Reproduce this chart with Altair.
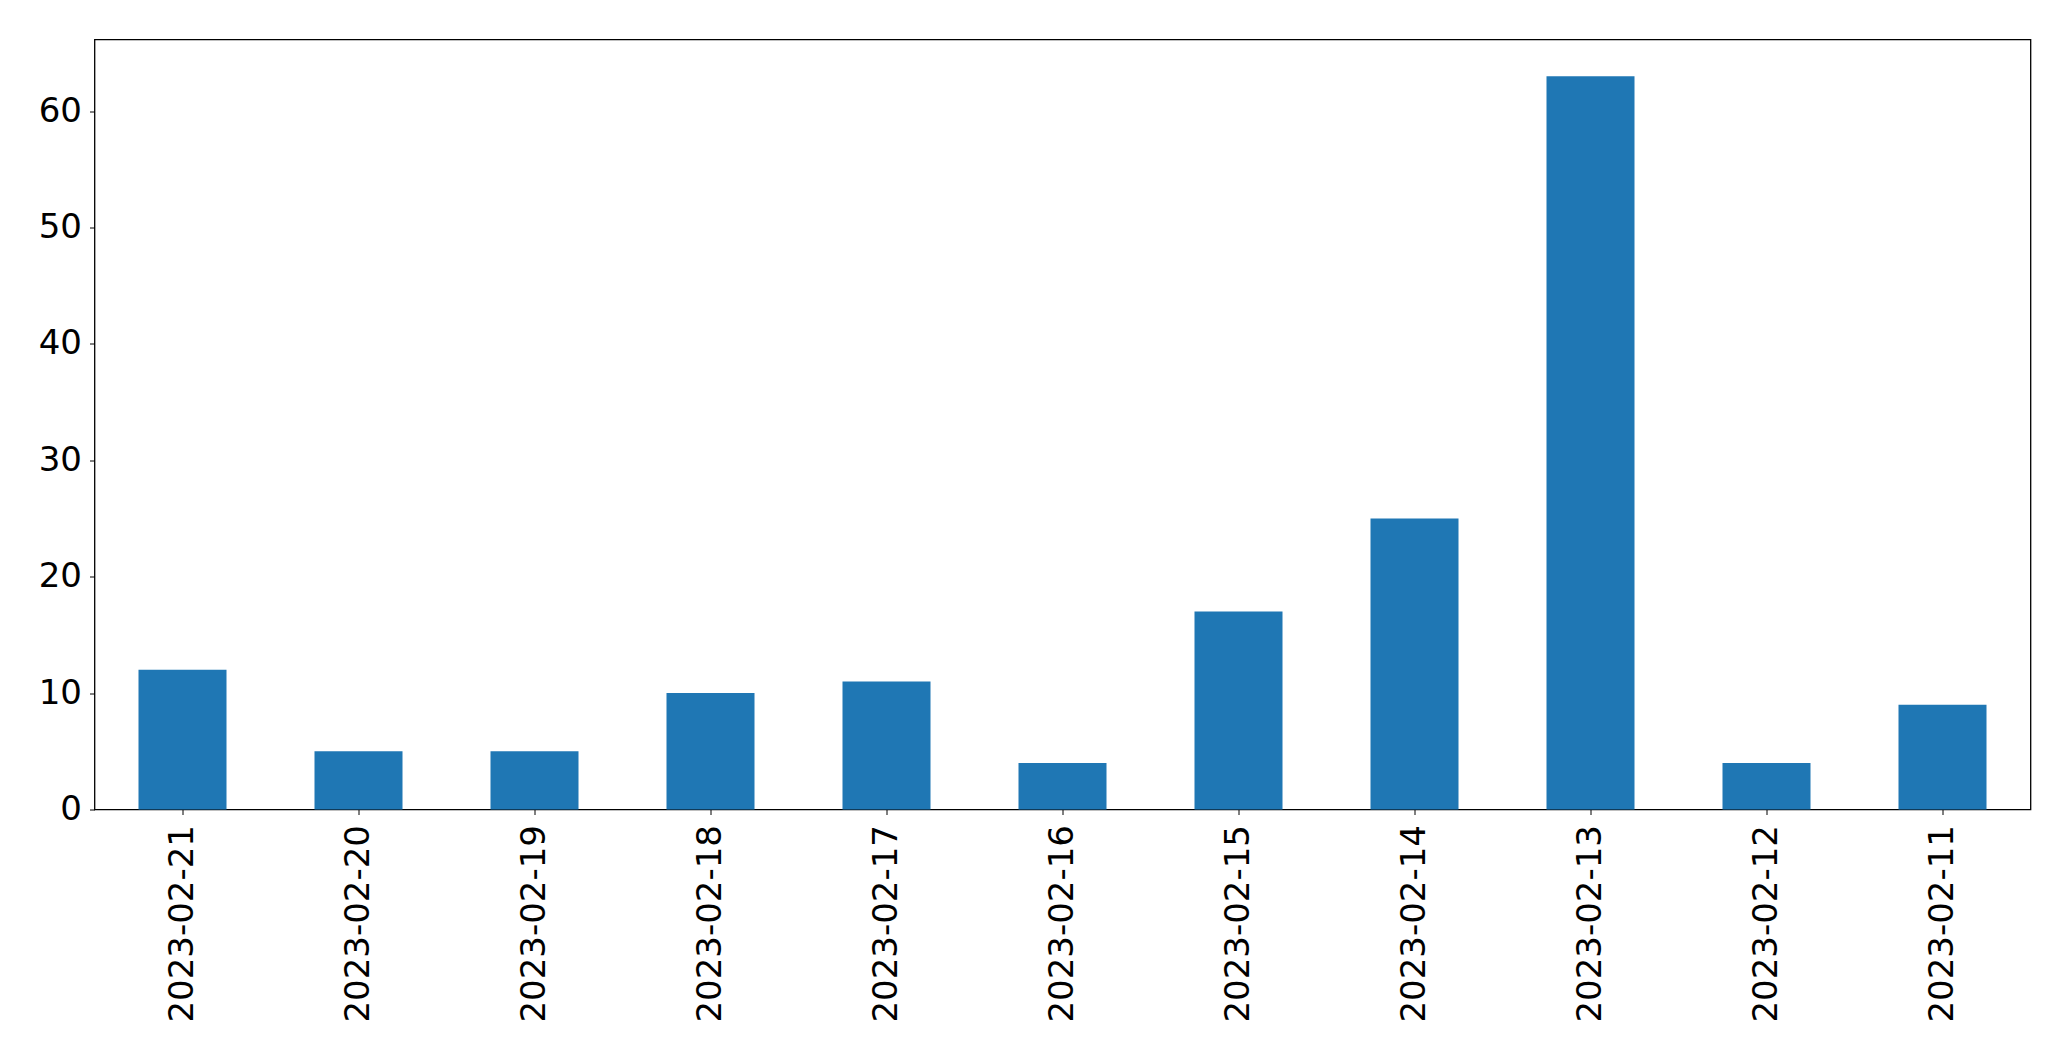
import altair as alt
import pandas as pd

dates = ["2023-02-21", "2023-02-20", "2023-02-19", "2023-02-18", "2023-02-17",
         "2023-02-16", "2023-02-15", "2023-02-14", "2023-02-13", "2023-02-12", "2023-02-11"]
counts = [12, 5, 5, 10, 11, 4, 17, 25, 63, 4, 9]
y_ticks = [0, 10, 20, 30, 40, 50, 60]

df = pd.DataFrame({"date": dates, "count": counts})

chart = alt.Chart(df).mark_bar(color="#1f77b4").encode(
    x=alt.X("date:N", sort=dates, title=None,
            scale=alt.Scale(paddingInner=0.5, paddingOuter=0.25),
            axis=alt.Axis(labelAngle=-90, labelFontSize=34, labelFont="DejaVu Sans",
                          labelColor="black", tickColor="black", tickSize=5, tickWidth=1,
                          labelPadding=10, labelLimit=0, domain=False, grid=False)),
    y=alt.Y("count:Q", title=None,
            scale=alt.Scale(domain=[0, 66.15], nice=False, zero=True),
            axis=alt.Axis(values=y_ticks, labelFontSize=34, labelFont="DejaVu Sans",
                          labelColor="black", tickColor="black", tickSize=5, tickWidth=1,
                          labelPadding=8, labelLimit=0, domain=False, grid=False)),
).properties(
    width=1936, height=770,
    autosize=alt.AutoSizeParams(type="none"),
    padding={"left": 86.5, "top": 31.5, "right": 30, "bottom": 240},
).configure(background="white").configure_view(stroke="black", strokeWidth=1.3)

chart.save("out.html", embed_options={"renderer": "svg", "actions": False})
